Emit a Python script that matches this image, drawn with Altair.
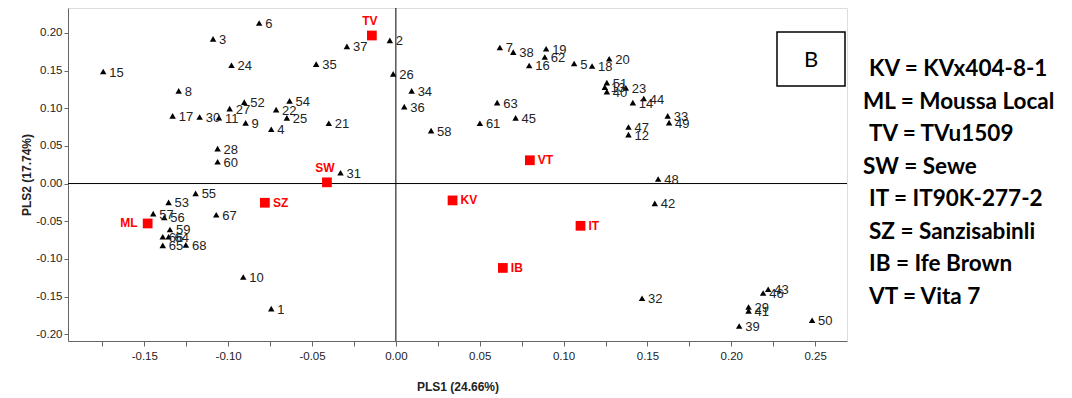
import altair as alt
import pandas as pd

# Genotype scores (triangles)
ids = list(range(1, 69))
pls1 = [-0.0743, -0.0036, -0.109, -0.0743, 0.1063, -0.0815, 0.062, -0.1295, -0.0896, -0.091,
        -0.1055, 0.1387, 0.1246, 0.1413, -0.1745, 0.0795, -0.1331, 0.117, 0.0896, 0.1272,
        -0.040, -0.0714, 0.1371, -0.098, -0.065, -0.0016, -0.0991, -0.1063, 0.2103, -0.117,
        -0.033, 0.1468, 0.1621, 0.0094, -0.0475, 0.0050, -0.0292, 0.070, 0.2047, 0.1258,
        0.2103, 0.1544, 0.222, 0.1478, 0.0714, 0.219, 0.1387, 0.1564, 0.1629, 0.2482,
        0.1258, -0.0904, -0.1355, -0.0634, -0.1194, -0.1381, -0.1447, 0.021, -0.1347, -0.1063,
        0.0501, 0.0888, 0.0604, -0.1355, -0.139, -0.139, -0.1071, -0.1252]
pls2 = [-0.166, 0.190, 0.192, 0.072, 0.1593, 0.213, 0.1806, 0.123, 0.0805, -0.124,
        0.0875, 0.065, 0.128, 0.1074, 0.1487, 0.1567, 0.0898, 0.156, 0.179, 0.1656,
        0.080, 0.0981, 0.127, 0.157, 0.0871, 0.1456, 0.0995, 0.0463, -0.1638, 0.0884,
        0.0144, -0.1523, 0.0898, 0.123, 0.1585, 0.1021, 0.182, 0.1745, -0.189, 0.122,
        -0.169, -0.0263, -0.1403, 0.1128, 0.0871, -0.1452, 0.0751, 0.006, 0.0809, -0.1815,
        0.134, 0.108, -0.025, 0.1097, -0.013, -0.045, -0.040, 0.0702, -0.061, 0.029,
        0.080, 0.168, 0.1074, -0.0707, -0.082, -0.0707, -0.0415, -0.0814]

# Check varieties (red squares)
check_codes = ["KV", "ML", "TV", "SW", "IT", "SZ", "IB", "VT"]
check_pls1 = [0.0338, -0.148, -0.0143, -0.0411, 0.1101, -0.0781, 0.0638, 0.0799]
check_pls2 = [-0.0224, -0.053, 0.1965, 0.0016, -0.0561, -0.0255, -0.112, 0.0309]

# Key text
legend_lines = ["KV = KVx404-8-1", "ML = Moussa Local", "TV = TVu1509", "SW = Sewe",
                "IT = IT90K-277-2", "SZ = Sanzisabinli", "IB = Ife Brown", "VT = Vita 7"]
legend_indent = [1, 0, 1, 0, 1, 1, 1, 1]

x_ticks = [-0.175, -0.15, -0.125, -0.10, -0.075, -0.05, -0.025, 0.0, 0.025, 0.05,
           0.075, 0.10, 0.125, 0.15, 0.175, 0.20, 0.225, 0.25]
y_ticks = [-0.20, -0.175, -0.15, -0.125, -0.10, -0.075, -0.05, -0.025, 0.0, 0.025,
           0.05, 0.075, 0.10, 0.125, 0.15, 0.175, 0.20, 0.225]

geno = pd.DataFrame({"id": [str(i) for i in ids], "x": pls1, "y": pls2})
checks = pd.DataFrame({"code": check_codes, "x": check_pls1, "y": check_pls2})
key = pd.DataFrame({"line": legend_lines, "row": list(range(len(legend_lines))),
                    "indent": legend_indent})

W, H = 779, 333
label_expr = ("abs(round(datum.value*40)) % 2 == 0 ? "
              "((datum.value < -0.0001 ? '-' : '') + format(abs(datum.value), '.2f')) : ''")
axis_font = "Liberation Sans, Arial"

xs = alt.Scale(domain=[-0.1955, 0.269], nice=False, zero=False)
ys = alt.Scale(domain=[-0.209, 0.233], nice=False, zero=False)

x_enc = alt.X("x:Q", scale=xs, axis=alt.Axis(
    values=x_ticks, labelExpr=label_expr, title="PLS1 (24.66%)", grid=False,
    labelFont=axis_font, labelFontSize=11.5, labelColor="#222", tickColor="#666",
    domainColor="#666", tickSize=5, labelPadding=4, titleFont=axis_font,
    titleFontSize=12, titleFontWeight="bold", titleColor="#222", titlePadding=20))
y_enc = alt.Y("y:Q", scale=ys, axis=alt.Axis(
    values=y_ticks, labelExpr=label_expr, title="PLS2 (17.74%)", grid=False,
    labelFont=axis_font, labelFontSize=11.5, labelColor="#222", tickColor="#666",
    domainColor="#666", tickSize=4, labelPadding=2, titleFont=axis_font,
    titleFontSize=12, titleFontWeight="bold", titleColor="#222", titlePadding=2))

zero_v = alt.Chart(pd.DataFrame({"v": [0.0]})).mark_rule(color="black", strokeWidth=1).encode(
    x=alt.X("v:Q", scale=xs))
zero_h = alt.Chart(pd.DataFrame({"v": [0.0]})).mark_rule(color="black", strokeWidth=1).encode(
    y=alt.Y("v:Q", scale=ys))

tri = alt.Chart(geno).mark_point(shape="triangle-up", filled=True, color="black",
                                 size=42, opacity=1).encode(x=x_enc, y=y_enc)
tri_lab = alt.Chart(geno).mark_text(align="left", baseline="middle", dx=6, dy=1,
                                    font="Liberation Sans, Arial", fontSize=13,
                                    color="#222").encode(
    x=alt.X("x:Q", scale=xs), y=alt.Y("y:Q", scale=ys), text="id:N")

sq = alt.Chart(checks).mark_point(shape="square", filled=True, color="#ff0000",
                                  size=95, opacity=1).encode(
    x=alt.X("x:Q", scale=xs), y=alt.Y("y:Q", scale=ys))

red_style = dict(font="Liberation Sans, Arial", fontSize=12, fontWeight="bold", color="#ff0000")
top_codes = ["TV", "SW"]
left_codes = ["ML"]
lab_top = alt.Chart(checks).transform_filter(
    alt.FieldOneOfPredicate(field="code", oneOf=top_codes)).mark_text(
    align="center", baseline="middle", dy=-14, dx=-2, **red_style).encode(
    x=alt.X("x:Q", scale=xs), y=alt.Y("y:Q", scale=ys), text="code:N")
lab_left = alt.Chart(checks).transform_filter(
    alt.FieldOneOfPredicate(field="code", oneOf=left_codes)).mark_text(
    align="right", baseline="middle", dx=-10, **red_style).encode(
    x=alt.X("x:Q", scale=xs), y=alt.Y("y:Q", scale=ys), text="code:N")
lab_right = alt.Chart(checks).transform_filter(
    ~alt.FieldOneOfPredicate(field="code", oneOf=top_codes + left_codes)).mark_text(
    align="left", baseline="middle", dx=8, **red_style).encode(
    x=alt.X("x:Q", scale=xs), y=alt.Y("y:Q", scale=ys), text="code:N")

one = pd.DataFrame({"k": [0]})
box = alt.Chart(one).mark_rect(fill="white", stroke="black", strokeWidth=1.5).encode(
    x=alt.value(709), x2=alt.value(777), y=alt.value(24), y2=alt.value(78))
box_txt = alt.Chart(one).mark_text(text="B", font="Lato, Open Sans", fontSize=22,
                                   align="center", baseline="middle", color="black").encode(
    x=alt.value(743), y=alt.value(52))
legend = alt.Chart(key).mark_text(font="Lato", fontSize=22.5, fontWeight="bold", align="left",
                                  baseline="alphabetic", color="black").encode(
    x=alt.value(795), y=alt.value(68),
    xOffset=alt.XOffset("indent:Q", scale=alt.Scale(domain=[0, 1], range=[0, 6])),
    yOffset=alt.YOffset("row:Q", scale=alt.Scale(domain=[0, 7], range=[0, 228])),
    text="line:N")

chart = alt.layer(zero_v, zero_h, tri, tri_lab, sq, lab_top, lab_left, lab_right,
                  box, box_txt, legend).properties(
    width=W, height=H,
    autosize=alt.AutoSizeParams(type="none"),
    padding={"left": 68, "top": 8, "right": 1072 - 68 - W, "bottom": 398 - 8 - H},
).configure_view(stroke="#222", strokeWidth=1).configure(background="white")

chart.save("out.html", embed_options={"renderer": "svg", "actions": False})
